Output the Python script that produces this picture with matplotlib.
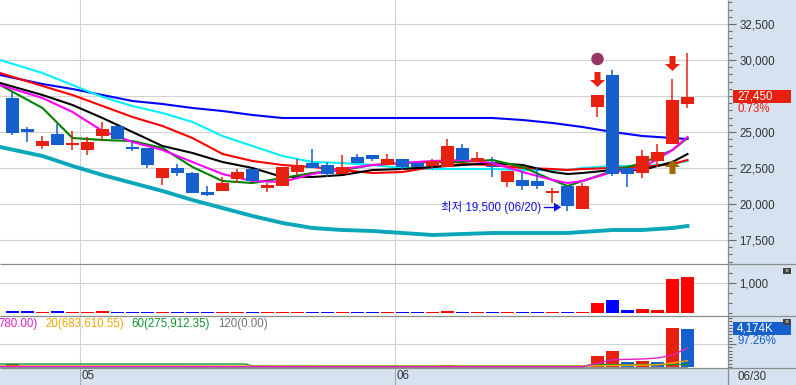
import numpy as np
import matplotlib
matplotlib.use('Agg')
import matplotlib.pyplot as plt
from matplotlib.patches import Rectangle, Polygon, Ellipse
from matplotlib.ticker import MultipleLocator, FuncFormatter
import matplotlib.transforms as mtrans

plt.rcParams['font.family'] = ['Liberation Sans', 'Noto Sans CJK KR', 'DejaVu Sans']

# ---------------- data ----------------
opens = [27361, 25208, 24028, 24861, 24167, 23750, 24722, 25417, 23958, 23889,
         21806, 22500, 22153, 20833, 20903, 21736, 22431, 21111, 21250, 22222,
         22847, 22708, 22083, 23264, 23403, 22708, 23125, 22847, 22639, 22569,
         23889, 22917, 22639, 21528, 21667, 21597, 20833, 21250, 19653, 26736,
         28958, 22500, 22153, 22986, 24167, 26944]
highs = [27778, 25347, 24722, 25556, 25069, 24653, 25694, 25417, 24306, 23889,
         22500, 22778, 22222, 21250, 21875, 22431, 22431, 21458, 22569, 23125,
         23819, 22917, 23403, 23472, 23403, 23472, 23125, 22847, 23125, 24514,
         24167, 23611, 23264, 22292, 22222, 22569, 21111, 21250, 21458, 27569,
         29306, 22500, 23750, 24167, 28681, 30486]
lows = [24800, 24306, 23820, 24097, 23750, 23403, 24375, 24514, 23681, 22500,
        21320, 21944, 20764, 20556, 20903, 21458, 21597, 20833, 21250, 22014,
        22500, 21875, 22083, 22847, 22986, 22708, 22361, 22569, 22431, 22569,
        23056, 22917, 21875, 21181, 20972, 21042, 20069, 19500, 19653, 26042,
        21944, 21181, 21806, 22569, 24167, 26667]
closes = [24931, 25000, 24375, 24097, 24167, 24306, 25208, 24514, 23820, 22708,
          22500, 22153, 20764, 20625, 21458, 22222, 21597, 21319, 22569, 22708,
          22500, 22083, 22569, 22847, 23125, 23125, 22569, 22569, 22986, 24028,
          23056, 23194, 22569, 22292, 21250, 21250, 20833, 19861, 21250, 27569,
          22083, 22083, 23333, 23611, 27222, 27450]
volume = [50, 70, 30, 50, 30, 30, 70, 30, 30, 30,
          30, 30, 30, 30, 30, 30, 30, 30, 30, 30,
          30, 30, 30, 30, 30, 30, 30, 30, 30, 60,
          30, 30, 30, 30, 30, 30, 30, 30, 30, 333,
          433, 100, 133, 100, 1133, 1200]
amount = [300, 60, 30, 30, 30, 30, 60, 30, 30, 30,
          30, 30, 30, 30, 30, 30, 30, 30, 30, 30,
          30, 30, 30, 30, 30, 30, 30, 30, 30, 200,
          30, 30, 30, 30, 30, 30, 30, 30, 30, 1208,
          1757, 549, 659, 549, 4284, 4174]
amount_up = [True, False, True, False, True, True, True, False, False, False,
             True, False, False, False, True, True, False, True, True, True,
             False, False, True, False, False, True, False, False, True, True,
             False, True, False, True, False, False, True, False, True, True,
             True, False, True, False, True, False]

ma_idx = [-0.83, 2, 4, 6, 8, 10, 12, 14, 16, 18, 20, 22, 24, 26, 28, 30, 32, 34,
          36, 37, 38, 40, 42, 44, 45]
ma_magenta = [28264, 27361, 26389, 25069, 24306, 23750, 22917, 22083, 21597, 21528,
              22083, 22431, 22708, 22847, 22986, 23056, 22847, 22222, 21667, 21458,
              21597, 22222, 22500, 23750, 24653]
ma_green = [28264, 26667, 24583, 24444, 24375, 23889, 22569, 21597, 21458, 21806,
            22153, 22361, 22708, 22847, 22917, 22917, 23056, 22569, 21667, 21250,
            21597, 22292, 22847, 23750, 24583]
ma_black = [28403, 27569, 26875, 25972, 25000, 24028, 23542, 22917, 22500, 21875,
            21875, 22014, 22361, 22431, 22569, 22708, 22847, 22708, 22222, 22083,
            22153, 22361, 22361, 22917, 23472]
ma_red = [29097, 28194, 27569, 26806, 26042, 25417, 24583, 23472, 22986, 22708,
          22569, 22361, 22153, 22222, 22569, 22778, 22708, 22500, 22431, 22361,
          22431, 22500, 22569, 22778, 23056]
ma_cyan = [30000, 29097, 28264, 27431, 26806, 26319, 25694, 24722, 24028, 23333,
           22917, 22847, 22708, 22500, 22431, 22431, 22431, 22361, 22361, 22361,
           22500, 22639, 22639, 22778, 22986]
ma_blue = [28958, 28333, 27986, 27569, 27153, 26944, 26667, 26458, 26181, 25972,
           25972, 25972, 25972, 25972, 25972, 25972, 25972, 25833, 25625, 25486,
           25347, 25000, 24722, 24583, 24514]
ma_teal = [23958, 23333, 22639, 22014, 21458, 20903, 20278, 19722, 19167, 18681,
           18333, 18194, 18125, 17986, 17847, 17917, 17986, 17986, 17986, 17986,
           18056, 18194, 18194, 18333, 18472]

amt_ma5_idx = [-0.83, 11, 20, 38, 39, 40, 42, 43, 44, 45]
amt_ma5 = [60, 60, 30, 30, 400, 800, 880, 990, 1300, 2087]
amt_ma20_idx = [-0.83, 38, 39, 43, 44, 45]
amt_ma20 = [100, 100, 150, 230, 450, 684]
amt_ma60_idx = [-0.83, 15.5, 16, 38, 39, 45]
amt_ma60 = [330, 330, 120, 120, 260, 276]

# visible part of the amount-MA legend (the first entry is cut by the left edge)
amt_legend = [('780.00)', '#e020c0'), ('20(683,610.55)', '#f0a800'),
              ('60(275,912.35)', '#10962f'), ('120(0.00)', '#707070')]

price_ticks = [17500, 20000, 22500, 25000, 27500, 30000, 32500]
volume_ticks = [1000]
month_pos = [4.5, 25.5]
month_labels = ['05', '06']
last_date = '06/30'
min_date = '06/20'
change_pct = 0.73
amount_last_label = '4,174K'
amount_pct = 97.26
sell_signal_idx = [39, 44]
buy_signal_idx = [44]
circle_signal_idx = [39]

# ---------------- layout ----------------
W, H, DPI = 796, 385, 100
fig = plt.figure(figsize=(W / DPI, H / DPI), dpi=DPI)
RED_C, BLUE_C = '#e8200f', '#1560cc'
BG = '#d6e2f0'
GRID = '#d2d2d2'
SEP = '#8c8c8c'
FS = 8.3


def box(x0, y0, x1, y1):
    return [x0 / W, 1 - y1 / H, (x1 - x0) / W, (y1 - y0) / H]


bg = fig.add_axes([0, 0, 1, 1], zorder=-5)
bg.set_xlim(0, W); bg.set_ylim(H, 0); bg.axis('off')
bg.add_patch(Rectangle((728, 0), W - 728, H, color=BG, lw=0))
bg.add_patch(Rectangle((0, 367.7), 728, H - 367.7, color=BG, lw=0))

n = len(opens)
idx = np.arange(n)
o = np.array(opens, float); c = np.array(closes, float)
hi = np.array(highs, float); lo = np.array(lows, float)
up = c >= o
ccol = [RED_C if u else BLUE_C for u in up]
XL = (-0.833, 47.7)
PX = 1 / 15.0           # one pixel in index units
PY = 2500 / 36.0        # one pixel in price units

ax1 = fig.add_axes(box(0, 0, 728, 264))
ax2 = fig.add_axes(box(0, 264, 728, 315.7))
ax3 = fig.add_axes(box(0, 315.7, 728, 367.7))
ax4 = fig.add_axes(box(0, 367.7, 728, 385))

for ax in (ax1, ax2, ax3, ax4):
    ax.set_xlim(*XL)
    for s in ax.spines.values():
        s.set_visible(False)
    ax.set_xticks([])
    for m in month_pos:
        ax.axvline(m, color=GRID if ax is not ax4 else '#a8a8a8', lw=0.8, zorder=0)
ax4.set_facecolor(BG)
ax4.set_yticks([])

ax1.set_ylim(15833, 34167)
ax2.set_ylim(-90, 1633)
ax3.set_ylim(-77, 5633)


def price_fmt(v, p):
    # the current-price box covers the tick label right next to it
    if abs(v - c[-1]) < 8 * PY:
        return ''
    return f'{int(v):,}'


for ax, ticks, minor, f in ((ax1, price_ticks, 500, price_fmt),
                            (ax2, volume_ticks, 1000 / 3, lambda v, p: f'{int(v):,}'),
                            (ax3, [2500], 2500 / 7, lambda v, p: '')):
    ax.yaxis.tick_right()
    ax.set_yticks(ticks)
    ax.yaxis.set_major_formatter(FuncFormatter(f))
    ax.yaxis.set_minor_locator(MultipleLocator(minor))
    ax.tick_params(axis='y', which='major', direction='out', length=6, width=0.8,
                   color='#6a6a6a', labelsize=FS, labelcolor='#333333', pad=2)
    ax.tick_params(axis='y', which='minor', direction='out', length=3, width=0.8,
                   color='#6a6a6a')
    ax.grid(axis='y', which='major', color=GRID, lw=0.8, zorder=0)

# ---------------- price panel ----------------
ax1.plot(ma_idx, ma_teal, color='#0aa6ba', lw=2.8, zorder=2)
ax1.plot(ma_idx, ma_blue, color='#0000ff', lw=1.5, zorder=2)
ax1.plot(ma_idx, ma_cyan, color='#00f0ff', lw=1.5, zorder=2)
ax1.plot(ma_idx, ma_red, color='#ff0000', lw=1.5, zorder=2)
ax1.plot(ma_idx, ma_black, color='#000000', lw=1.5, zorder=2)
ax1.plot(ma_idx, ma_green, color='#008000', lw=1.5, zorder=2)
ax1.plot(ma_idx, ma_magenta, color='#ff00ff', lw=1.5, zorder=2)

ax1.vlines(idx, lo, hi, colors=ccol, lw=1.1, zorder=3)
body_h = np.maximum(np.abs(c - o), 1.6 * PY)
body_b = np.where(np.abs(c - o) < 1.6 * PY, (o + c) / 2 - 0.8 * PY, np.minimum(o, c))
ax1.bar(idx, body_h, bottom=body_b, width=13 * PX, color=ccol, lw=0, zorder=4)

# signal markers
for i in sell_signal_idx:
    tip = hi[i] + 8 * PY
    pts = [(i - 7.5 * PX, tip + 7 * PY), (i, tip), (i + 7.5 * PX, tip + 7 * PY),
           (i + 3 * PX, tip + 7 * PY), (i + 3 * PX, tip + 15 * PY),
           (i - 3 * PX, tip + 15 * PY), (i - 3 * PX, tip + 7 * PY)]
    ax1.add_patch(Polygon(pts, closed=True, color=RED_C, lw=0, zorder=5))
for i in buy_signal_idx:
    tip = lo[i] - 16 * PY
    pts = [(i - 7.5 * PX, tip - 7 * PY), (i, tip), (i + 7.5 * PX, tip - 7 * PY),
           (i + 3 * PX, tip - 7 * PY), (i + 3 * PX, tip - 14 * PY),
           (i - 3 * PX, tip - 14 * PY), (i - 3 * PX, tip - 7 * PY)]
    ax1.add_patch(Polygon(pts, closed=True, color='#9c6a00', lw=0, zorder=5))
for i in circle_signal_idx:
    ax1.add_patch(Ellipse((i, hi[i] + 36 * PY), 12.5 * PX, 12.5 * PY,
                          color='#993366', lw=0, zorder=5))

# lowest annotation
imin = int(np.argmin(lo))
ay = lo[imin] + 4 * PY
ax1.plot([imin - 1.55, imin - 0.85], [ay, ay], color='#1414e0', lw=1.0, zorder=6)
ax1.add_patch(Polygon([(imin - 0.9, ay + 4.5 * PY), (imin - 0.42, ay),
                       (imin - 0.9, ay - 4.5 * PY)], closed=True,
                      color='#1414e0', lw=0, zorder=6))
ax1.text(imin - 1.75, ay, f'최저 {int(lo[imin]):,} ({min_date})', color='#1414e0',
         fontsize=FS, ha='right', va='center', zorder=6)

# ---------------- volume panel ----------------
vcol = ['#ff0000' if u else '#0000ff' for u in up]
ax2.bar(idx, volume, width=13 * PX, color=vcol, lw=0, zorder=3)

# ---------------- amount panel ----------------
acol = [RED_C if u else BLUE_C for u in amount_up]
ax3.bar(idx, amount, width=13 * PX, color=acol, lw=0, zorder=3)
ax3.plot([XL[0], n - 1], [0, 0], color='#909090', lw=1.0, zorder=4)
ax3.plot(amt_ma60_idx, amt_ma60, color='#10962f', lw=1.0, zorder=4)
ax3.plot(amt_ma20_idx, amt_ma20, color='#f0a800', lw=1.0, zorder=4)
ax3.plot(amt_ma5_idx, amt_ma5, color='#e020c0', lw=1.0, zorder=4)

# ---------------- overlay decorations ----------------
ov = fig.add_axes([0, 0, 1, 1], zorder=20)
ov.set_xlim(0, W); ov.set_ylim(H, 0); ov.axis('off')
ov.hlines([264, 315.7, 367.7], 0, W, color=SEP, lw=0.9)
ov.vlines([728], 0, H, color=SEP, lw=0.9)

ends = [38, 124, 210, 268]
for (txt, col), xe in zip(amt_legend, ends):
    ov.text(xe, 323.5, txt, color=col, fontsize=FS, ha='right', va='center')

# current price box
bt = mtrans.blended_transform_factory(ov.transData, ax1.transData)
ov.add_patch(Rectangle((733, c[-1] - 6.5 * PY), 58, 13 * PY, transform=bt,
                       color=RED_C, lw=0, zorder=21))
ov.text(737, c[-1], f'{int(c[-1]):,}', transform=bt, color='white', fontsize=FS,
        va='center', ha='left', zorder=22)
ov.text(737, c[-1] - 12 * PY, f'{change_pct:.2f}%', transform=bt, color=RED_C,
        fontsize=FS, va='center', ha='left', zorder=22)

# amount label box
ov.add_patch(Rectangle((733, 322), 58, 13, color=BLUE_C, lw=0, zorder=21))
ov.text(737, 328.5, amount_last_label, color='white', fontsize=FS, va='center',
        ha='left', zorder=22)
ov.text(737, 341, f'{amount_pct:.2f}%', color=BLUE_C, fontsize=FS, va='center',
        ha='left', zorder=22)

# small panel icons
for yy in (268, 319):
    ov.add_patch(Rectangle((783, yy), 8, 6, color='#404040', lw=0, zorder=21))
    ov.text(787, yy + 3, '×', color='white', fontsize=5, ha='center', va='center',
            zorder=22)

# date labels
for m, lab in zip(month_pos, month_labels):
    ax4.text(m + 0.07, 0.5, lab, transform=mtrans.blended_transform_factory(
        ax4.transData, ax4.transAxes), fontsize=FS, color='#333333',
        ha='left', va='center')
ov.text(737, 376.5, last_date, color='#333333', fontsize=FS, ha='left', va='center')

fig.savefig('out.png', dpi=DPI)
